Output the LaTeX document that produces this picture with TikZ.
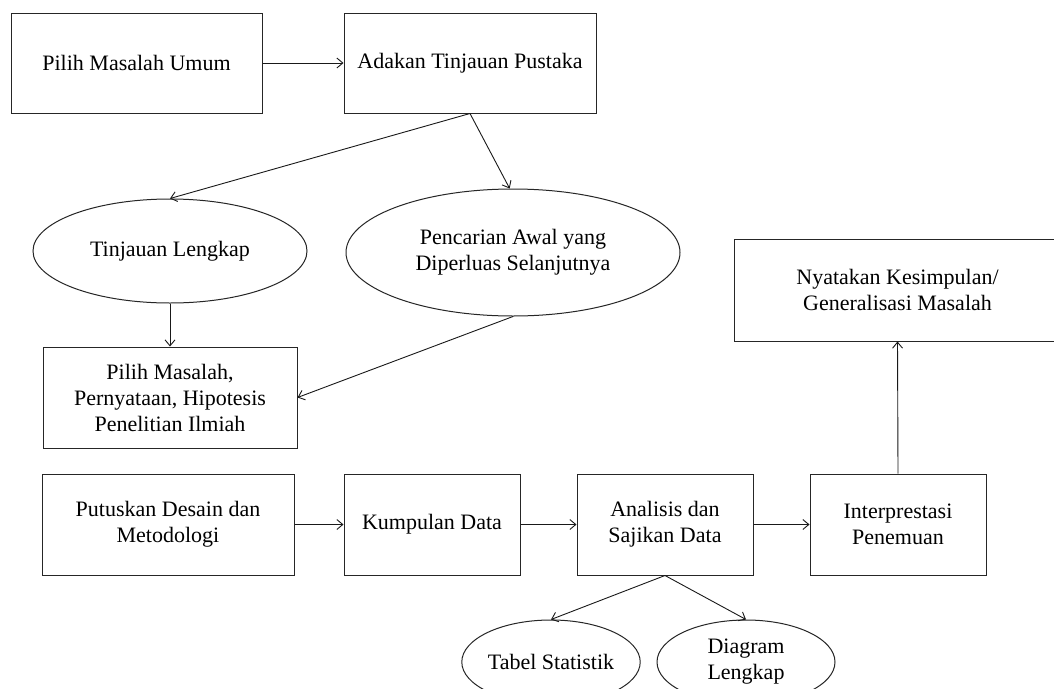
\documentclass[tikz,border=0pt]{standalone}
\usepackage{fontspec}
\setmainfont{Liberation Serif}
\usetikzlibrary{arrows.meta,shapes.geometric}
\begin{document}
\begin{tikzpicture}[x=1pt,y=-1pt,
  every node/.style={font=\fontsize{22}{26}\selectfont, align=center, inner sep=0pt},
  boxn/.style={draw=black!85, line width=1pt, rectangle},
  ell/.style={draw=black!85, line width=1pt, ellipse},
  arr/.style={draw=black!90, line width=0.9pt, -{Straight Barb[length=6pt,width=10pt]}}]
\useasboundingbox (0,0) rectangle (1054,688);
\clip (0,0) rectangle (1054,688);
\fill[white] (0,0) rectangle (1054,688);
% boxes
\node[boxn, minimum width=251pt, minimum height=100pt] (b1) at (136.5,63) {Pilih Masalah Umum};
\node[boxn, minimum width=252pt, minimum height=100pt] (b2) at (470,63) {Adakan Tinjauan Pustaka};
\node[ell, minimum width=274pt, minimum height=104pt] (e1) at (170,251) {Tinjauan Lengkap};
\node[ell, minimum width=334pt, minimum height=127pt] (e2) at (513,252.5) {Pencarian Awal yang\\Diperluas Selanjutnya};
\node[boxn, minimum width=254pt, minimum height=101pt] (b3) at (170,397.5) {Pilih Masalah,\\Pernyataan, Hipotesis\\Penelitian Ilmiah};
\node[boxn, minimum width=327pt, minimum height=102pt] (b4) at (897.5,290) {Nyatakan Kesimpulan/\\Generalisasi Masalah};
\node[boxn, minimum width=252pt, minimum height=101pt] (b5) at (168,524.5) {Putuskan Desain dan\\Metodologi};
\node[boxn, minimum width=176pt, minimum height=101pt] (b6) at (432,524.5) {Kumpulan Data};
\node[boxn, minimum width=176pt, minimum height=101pt] (b7) at (665,524.5) {Analisis dan\\Sajikan Data};
\node[boxn, minimum width=176pt, minimum height=101pt] (b8) at (898,524.5) {Interprestasi\\Penemuan};
\node[ell, minimum width=178pt, minimum height=84pt] (e3) at (551,662) {Tabel Statistik};
\node[ell, minimum width=178pt, minimum height=84pt] (e4) at (746,662) {Diagram\\Lengkap};
% connectors
\draw[arr] (b1.east) -- (b2.west);
\draw[arr] (b2.south) -- (e1.north);
\draw[arr] (b2.south) -- (e2.93);
\draw[arr] (e1.south) -- (b3.north);
\draw[arr] (e2.south) -- (b3.east);
\draw[arr] (b5.east) -- (b6.west);
\draw[arr] (b6.east) -- (b7.west);
\draw[arr] (b7.east) -- (b8.west);
\draw[arr] (b8.north) -- (b4.south);
\draw[arr] (b7.south) -- (e3.north);
\draw[arr] (b7.south) -- (e4.north);
\end{tikzpicture}
\end{document}
